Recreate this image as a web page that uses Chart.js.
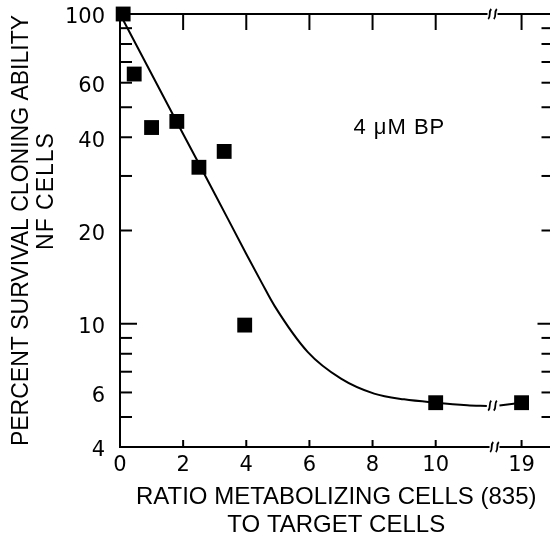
<!DOCTYPE html>
<html><head><meta charset="utf-8">
<script src="https://cdn.jsdelivr.net/npm/chart.js@4.4.0/dist/chart.umd.min.js"></script>
<style>
html,body{margin:0;padding:0;background:#fff;overflow:hidden;width:550px;height:545px}
#c{position:absolute;left:0;top:0;width:563px;height:545px}
</style>
</head><body><canvas id="c" width="563" height="545"></canvas>
<script>
// Measured points (ratio, percent survival)
const pointX = [0.1, 0.45, 1.0, 1.8, 2.5, 3.3, 3.95, 10, 19];
const pointY = [100, 64, 43, 45, 32, 36, 9.9, 5.56, 5.56];
// Fitted curve (before and after the axis break)
const curveX = [0, 1, 2, 3, 4, 4.5, 4.9, 5.95, 7, 8.05, 9, 10, 11, 11.62];
const curveY = [100, 64, 41, 26.3, 16.8, 13.5, 11.4, 8.1, 6.65, 5.95, 5.7, 5.56, 5.46, 5.43];
const curveX2 = [18.3, 19];
const curveY2 = [5.45, 5.56];
// Ticks
const xTickValues = [0, 2, 4, 6, 8, 10, 19];
const yTickValues = [4, 5, 6, 7, 8, 9, 10, 20, 30, 40, 50, 60, 70, 80, 90, 100];
const yLabeled = [4, 6, 10, 20, 40, 60, 100];
const yMajor = [10, 100];

// Broken x axis: values beyond the break are placed next to it
const BREAK_POS = 11.8, POS19 = 12.72, X_MAX = 13.7;
function axisPos(v) { return v < 15 ? v : POS19 + (v - 19); }

const FONT = '"Liberation Sans", Arial, sans-serif';
const TICKFONT = '"DejaVu Sans", sans-serif';
Chart.defaults.font.family = FONT;
Chart.defaults.color = '#000';

const framePlugin = {
  id: 'frame',
  afterDraw(chart) {
    const ctx = chart.ctx, xs = chart.scales.x, ys = chart.scales.y;
    const {left: L, right: R, top: T, bottom: B} = chart.chartArea;
    const line = (x1, y1, x2, y2) => { ctx.beginPath(); ctx.moveTo(x1, y1); ctx.lineTo(x2, y2); ctx.stroke(); };
    ctx.save();
    ctx.strokeStyle = '#000'; ctx.lineWidth = 2; ctx.lineCap = 'butt';
    line(L - 1, T, R + 1, T); line(L, T, L, B + 1); line(L - 1, B, R + 1, B); line(R, T, R, B);
    yTickValues.forEach(v => {
      const py = ys.getPixelForValue(v);
      const major = yMajor.includes(v);
      line(L, py, L + (major ? 17 : 12), py);
      line(R, py, R - (major ? 15 : 11), py);
    });
    xTickValues.forEach(v => {
      if (v === 0) return;
      const px = xs.getPixelForValue(axisPos(v));
      line(px, T, px, T + 16);
      line(px, B + 1, px, B - 7);
    });
    const drawBreak = (x, y) => {
      ctx.fillStyle = '#fff';
      ctx.fillRect(x - 5, y - 2.5, 10, 5);
      ctx.lineWidth = 1.8;
      [-2.8, 2.8].forEach(dx => {
        ctx.beginPath();
        ctx.moveTo(x + dx - 1.5, y + 5);
        ctx.bezierCurveTo(x + dx + 1.5, y + 2, x + dx - 1.5, y - 2, x + dx + 1.5, y - 5);
        ctx.stroke();
      });
      ctx.lineWidth = 2;
    };
    const bx = xs.getPixelForValue(BREAK_POS);
    drawBreak(bx, T);
    drawBreak(bx + 2, B);
    drawBreak(bx, ys.getPixelForValue(5.44));
    // extra texts
    ctx.fillStyle = '#000';
    ctx.textAlign = 'center'; ctx.textBaseline = 'middle';
    ctx.save();
    ctx.translate(47, 191); ctx.rotate(-Math.PI / 2);
    ctx.font = '23px ' + FONT;
    try { ctx.letterSpacing = '1px'; } catch (e) {}
    ctx.fillText('NF CELLS', 0, 0);
    ctx.restore();
    ctx.save();
    ctx.font = '22px ' + FONT;
    try { ctx.letterSpacing = '1px'; } catch (e) {}
    ctx.fillText('4 \u03bcM BP', xs.getPixelForValue(8.85), ys.getPixelForValue(43));
    ctx.restore();
    ctx.restore();
  }
};

new Chart(document.getElementById('c'), {
  type: 'scatter',
  data: {
    datasets: [
      {
        type: 'line',
        data: curveX.map((x, i) => ({x: axisPos(x), y: curveY[i]}))
          .concat([{x: BREAK_POS, y: null}])
          .concat(curveX2.map((x, i) => ({x: axisPos(x), y: curveY2[i]}))),
        borderColor: '#000', borderWidth: 2, pointRadius: 0,
        cubicInterpolationMode: 'monotone', spanGaps: false, fill: false, clip: false
      },
      {
        data: pointX.map((x, i) => ({x: axisPos(x), y: pointY[i]})),
        pointStyle: 'rect', pointRadius: 10.5, pointHoverRadius: 10.5,
        backgroundColor: '#000', borderColor: '#000', borderWidth: 0, clip: false
      }
    ]
  },
  options: {
    responsive: false, maintainAspectRatio: false, animation: false, devicePixelRatio: 1,
    layout: {padding: {top: 14, right: 0, left: 0, bottom: 0}},
    plugins: {legend: {display: false}, tooltip: {enabled: false}},
    scales: {
      x: {
        type: 'linear', min: 0, max: X_MAX,
        grid: {display: false, drawTicks: false}, border: {display: false},
        afterBuildTicks: s => { s.ticks = xTickValues.map(v => ({value: axisPos(v)})); },
        afterFit: s => { s.height = 98; s.paddingLeft = 0; s.paddingRight = 0; },
        ticks: {
          autoSkip: false, maxRotation: 0, padding: 6,
          font: {size: 21, family: TICKFONT}, color: '#000',
          callback: (val, idx) => String(xTickValues[idx])
        },
        title: {
          display: true,
          text: ['RATIO METABOLIZING CELLS (835)', 'TO TARGET CELLS'],
          font: {size: 24, lineHeight: 1.1667}, color: '#000',
          padding: {top: 0, bottom: 6}
        }
      },
      y: {
        type: 'logarithmic', min: 4, max: 100,
        grid: {display: false, drawTicks: false}, border: {display: false},
        afterBuildTicks: s => { s.ticks = yTickValues.map(v => ({value: v})); },
        afterFit: s => { s.width = 120; s.paddingTop = 0; s.paddingBottom = 0; },
        ticks: {
          autoSkip: false, padding: 15, labelOffset: 4,
          font: {size: 21, family: TICKFONT}, color: '#000',
          callback: v => yLabeled.includes(v) ? String(v) : ''
        },
        title: {
          display: true, text: 'PERCENT SURVIVAL CLONING ABILITY',
          font: {size: 23, lineHeight: 1.2}, color: '#000',
          padding: {top: 8, bottom: 0}
        }
      }
    }
  },
  plugins: [framePlugin]
});
</script>
</body></html>
